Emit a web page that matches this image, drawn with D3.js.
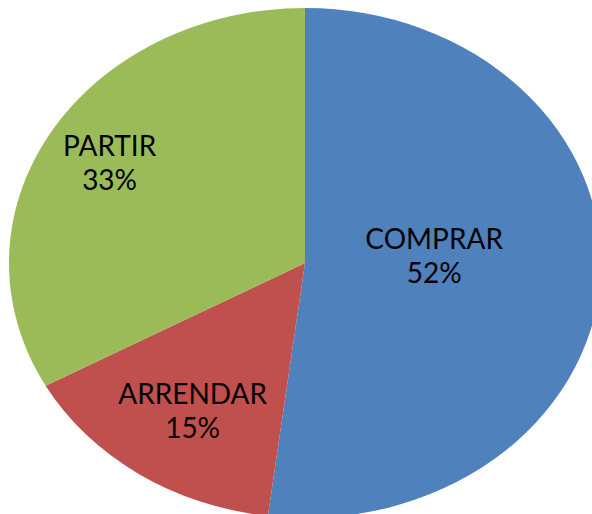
<!DOCTYPE html>
<html>
<head>
<meta charset="utf-8">
<script src="https://cdn.jsdelivr.net/npm/d3@7"></script>
<style>
  html, body { margin: 0; padding: 0; background: #fff; }
  svg { display: block; }
</style>
</head>
<body>
<div id="chart"></div>
<script>
// data
const categories = ['COMPRAR', 'ARRENDAR', 'PARTIR'];
const values = [52, 15, 33];
const colors = ['#4F81BD', '#C0504D', '#9BBB59'];

// layout
const width = 592, height = 514;
const cx = 305, cy = 263;
const rx = 296, ry = 255;
// where each label sits: fraction of the radius, and how far along its slice
const labelRadius = [0.437, 0.695, 0.767];
const labelAlong = [0.463, 0.48, 0.5];

const svg = d3.select('#chart').append('svg')
  .attr('width', width)
  .attr('height', height);

const pie = d3.pie().sort(null).value(d => d)(values);
const arc = d3.arc().innerRadius(0).outerRadius(ry);

// pie is drawn as a circle and stretched to the ellipse
svg.append('g')
  .attr('transform', 'translate(' + cx + ',' + cy + ') scale(' + (rx / ry) + ',1)')
  .selectAll('path')
  .data(pie)
  .enter()
  .append('path')
    .attr('d', arc)
    .style('fill', (d, i) => colors[i]);

const totalVal = d3.sum(values);
const labels = svg.append('g').selectAll('text')
  .data(pie)
  .enter()
  .append('text')
    .attr('transform', (d, i) => {
      const a = d.startAngle + (d.endAngle - d.startAngle) * labelAlong[i];
      const x = cx + Math.sin(a) * labelRadius[i] * rx;
      const y = cy - Math.cos(a) * labelRadius[i] * ry;
      return 'translate(' + x + ',' + y + ')';
    })
    .style('font-family', 'Lato, "Open Sans", sans-serif')
    .style('font-size', '28px')
    .style('fill', '#000')
    .style('text-anchor', 'middle');

labels.append('tspan')
  .attr('x', 0)
  .attr('y', -7.5)
  .text((d, i) => categories[i]);
labels.append('tspan')
  .attr('x', 0)
  .attr('y', 26.5)
  .text(d => Math.round(d.value / totalVal * 100) + '%');
</script>
</body>
</html>
